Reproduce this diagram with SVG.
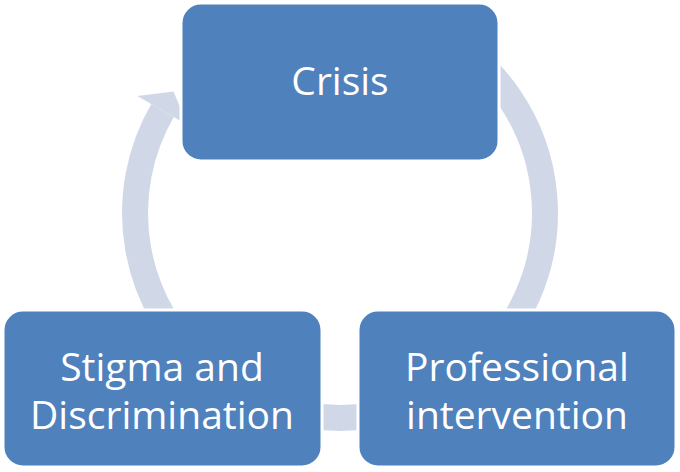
<svg xmlns="http://www.w3.org/2000/svg" width="680" height="472" viewBox="0 0 680 472">
<style>
.arc{fill:none;stroke:#D0D8E8;stroke-width:26;stroke-linecap:butt}
.head{fill:#D0D8E8}
.box{fill:#4F81BD;stroke:#FFFFFF;stroke-width:3}
.lbl{fill:#FFFFFF;font-family:"Open Sans","Noto Sans","Liberation Sans",sans-serif;font-size:39px;text-anchor:middle}
</style>
<rect x="0" y="0" width="680" height="472" fill="#FFFFFF"/>
<g id="connectors">
<path class="arc" d="M 208.2 370 A 205 205 0 0 1 162.5 110.5"/>
<polygon class="head" points="137.4,96 173.5,91.4 187.6,125"/>
<path class="arc" d="M 442.5 35.5 A 205 205 0 0 1 471.8 370"/>
<polygon class="head" points="490.4,392.2 455,384.1 453.2,347.8"/>
<path class="arc" d="M 410.1 405.6 A 205 205 0 0 1 304.4 414.9"/>
<polygon class="head" points="299.4,443.5 282.7,411.1 309.4,386.3"/>
</g>
<g id="crisis">
<rect class="box" x="181" y="3" width="318" height="158" rx="20" ry="20"/>
<text class="lbl" x="340" y="95">Crisis</text>
</g>
<g id="professional">
<rect class="box" x="358" y="310" width="318" height="157" rx="20" ry="20"/>
<text class="lbl" x="517" y="381">Professional</text>
<text class="lbl" x="517" y="429">intervention</text>
</g>
<g id="stigma">
<rect class="box" x="3" y="310" width="319" height="157" rx="20" ry="20"/>
<text class="lbl" x="162" y="381">Stigma and</text>
<text class="lbl" x="162" y="429">Discrimination</text>
</g>
</svg>
